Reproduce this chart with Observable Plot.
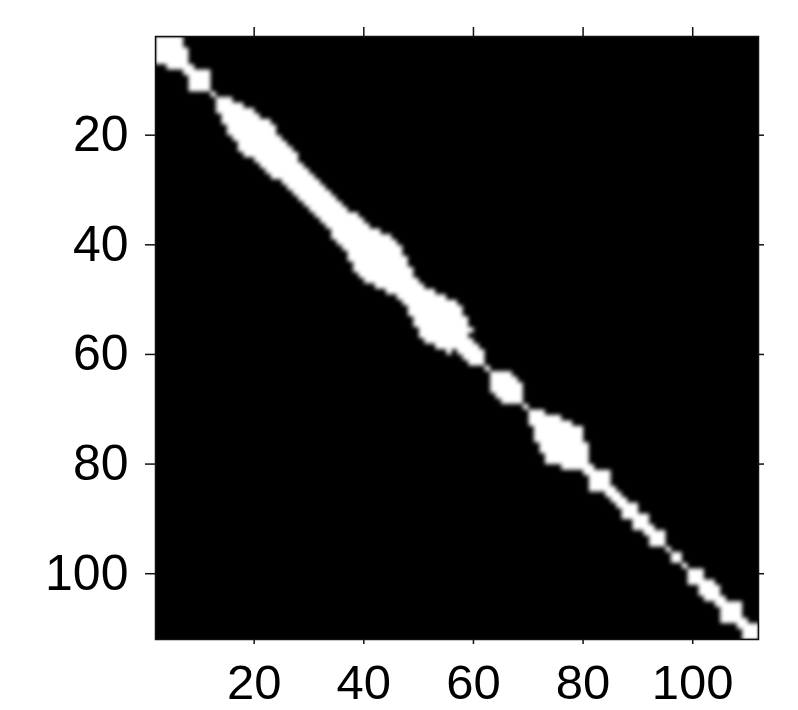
<!DOCTYPE html>
<html>
<head>
<meta charset="utf-8">
<script src="https://cdn.jsdelivr.net/npm/d3@7"></script>
<script src="https://cdn.jsdelivr.net/npm/@observablehq/plot@0.6"></script>
<style>
  html, body { margin: 0; padding: 0; background: #fff; }
</style>
</head>
<body>
<div id="chart"></div>
<script>
// Matrix size (rows = columns) and its extent on the axes
const matrixSize = 110;
const axisStart = 2;
const axisEnd = 112;

// Diagonal position (1..110) and the half-width of the white band at that position
// (cells with |i - j| <= half-width are white)
const diagIndex = d3.range(1, 111);
const bandHalfWidth = [
  2, 3, 4, 3, 3, 1,            // 1-6
  1, 3, 3, 1,                  // 7-10
  0,                           // 11
  1, 2, 3, 3, 4, 4, 5, 5, 5, 4, // 12-21
  4, 4, 4, 3, 3, 3, 3, 3, 3, 3, // 22-31
  3, 3, 3, 4, 4, 4, 5, 5, 6, 6, // 32-41
  6, 5, 5, 4, 3, 3, 3, 4, 5, 5, // 42-51
  6, 6, 5, 5, 4, 2,            // 52-57
  2, 2, 1,                     // 58-60
  0,                           // 61
  1, 3, 3, 3, 3, 1,            // 62-67
  0,                           // 68
  1, 2, 3, 4, 5, 5, 6, 5, 4, 3, 1, // 69-79
  1, 3, 3, 1,                  // 80-83
  1, 1,                        // 84-85
  1, 2, 1, 2, 1,               // 86-90
  1, 2, 1,                     // 91-93
  0,                           // 94
  1, 1,                        // 95-96
  0,                           // 97
  1, 2, 1, 2, 2, 1,            // 98-103
  1, 3, 3, 1,                  // 104-107
  1, 2, 1                      // 108-110
];

const tickValues = [20, 40, 60, 80, 100];

// Build the dense grid (row-major) that the raster mark needs
const hw = new Map(diagIndex.map((k, n) => [k, bandHalfWidth[n]]));
const grid = [];
for (let i = 1; i <= matrixSize; ++i) {
  for (let j = 1; j <= matrixSize; ++j) {
    const t = (i + j) / 2;
    const h = Math.min(hw.get(Math.floor(t)), hw.get(Math.ceil(t)));
    grid.push(Math.abs(i - j) <= h ? 1 : 0);
  }
}

const font = "'Liberation Sans', Arial, Helvetica, sans-serif";

const chart = Plot.plot({
  width: 798,
  height: 710,
  marginLeft: 155,
  marginRight: 40,
  marginTop: 36,
  marginBottom: 71,
  style: { fontFamily: font, background: "white", color: "black" },
  x: { domain: [axisStart, axisEnd] },
  y: { domain: [axisStart, axisEnd], reverse: true },
  color: { type: "linear", domain: [0, 1], range: ["black", "white"] },
  marks: [
    Plot.frame({ fill: "black" }),
    Plot.raster(grid, {
      width: matrixSize,
      height: matrixSize,
      x1: axisStart, x2: axisEnd,
      y1: axisStart, y2: axisEnd,
      fill: d => d,
      clip: true
    }),
    Plot.frame({ stroke: "#111", strokeWidth: 1.5 }),
    Plot.axisX({ anchor: "bottom", ticks: tickValues, tickSize: 5, tickPadding: 20,
                 fontSize: 49, label: null, strokeWidth: 1.5, stroke: "#111", fill: "black" }),
    Plot.axisX({ anchor: "top", ticks: tickValues, tickSize: 10, fill: "none",
                 label: null, strokeWidth: 1.5, stroke: "#111" }),
    Plot.axisY({ anchor: "left", ticks: tickValues, tickSize: 10, tickPadding: 17,
                 fontSize: 50, label: null, strokeWidth: 1.5, stroke: "#111", fill: "black" }),
    Plot.axisY({ anchor: "right", ticks: tickValues, tickSize: 5, fill: "none",
                 label: null, strokeWidth: 1.5, stroke: "#111" })
  ]
});

// Soften the cell edges the way the reference image is smoothed
d3.select(chart).selectAll("image").style("filter", "blur(1.6px)");

document.getElementById("chart").appendChild(chart);
</script>
</body>
</html>
